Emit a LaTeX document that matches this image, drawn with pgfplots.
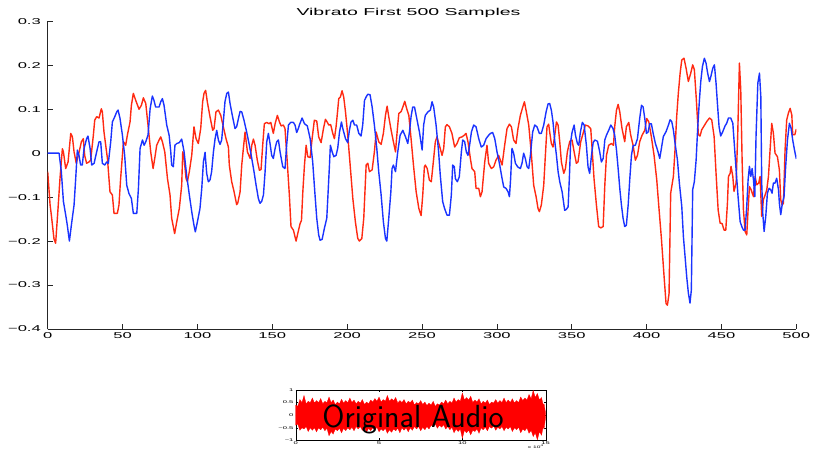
\documentclass[border=0pt]{standalone}
\usepackage{fontspec}
\setmainfont{Liberation Sans}
\usepackage{pgfplots}
\pgfplotsset{compat=1.18}
\definecolor{vred}{HTML}{FF2A12}
\definecolor{vblue}{HTML}{1A33FF}

\begin{document}
\begin{tikzpicture}[x=1pt,y=1pt]
\useasboundingbox (0,0) rectangle (814,453);

% main plot: first 500 samples
\begin{axis}[at={(47.7pt,124pt)}, anchor=south west, scale only axis,
  width=748.6pt, height=307.7pt,
  xmin=0, xmax=500, ymin=-0.4, ymax=0.3,
  axis x line*=bottom, axis y line*=left,
  axis line style={-, black!85, line width=0.7pt},
  tick align=inside, major tick length=5pt,
  tick style={black!85, line width=0.7pt},
  xtick={0,50,100,150,200,250,300,350,400,450,500},
  xticklabels={0,50,100,150,200,250,300,350,400,450,500},
  ytick={-0.4,-0.3,-0.2,-0.1,0,0.1,0.2,0.3},
  yticklabels={−0.4,−0.3,−0.2,−0.1,0,0.1,0.2,0.3},
  tick label style={font=\fontsize{8.5}{10}\selectfont, xscale=1.95},
  every axis plot/.append style={line width=1.4pt, line join=round}]
\addplot[vred] coordinates {(0,-0.042) (1.6,-0.118) (2.4,-0.14) (4.2,-0.195) (5.3,-0.205) (6.9,-0.126) (8.2,-0.058) (9.8,0.01) (10.5,0.003) (12,-0.035) (13.6,-0.02) (15.4,0.045) (16.5,0.037) (17.6,0.003) (19.1,-0.023) (21,0.003) (22.5,0.026) (23.8,0.033) (24.7,-0.005) (26,-0.023) (27.6,-0.02) (28.7,-0.016) (30.5,0.041) (31.4,0.075) (32.7,0.083) (34.3,0.08) (35.8,0.101) (36.5,0.094) (37.6,0.048) (39.9,-0.012) (41.6,-0.088) (43.2,-0.095) (44.3,-0.137) (46.5,-0.137) (47.6,-0.118) (48.7,-0.058) (50.6,0.026) (52.1,0.018) (53.2,0.041) (55,0.071) (55.9,0.109) (57.2,0.136) (58.8,0.12) (61,0.1) (62.6,0.109) (63.9,0.126) (65.5,0.113) (67,0.064) (68.8,0.003) (70.4,-0.035) (71.5,-0.012) (72.8,0.018) (74.4,0.03) (75.5,0.037) (76.6,0.026) (78.2,0.003) (80,-0.058) (81.7,-0.095) (82.8,-0.148) (84.8,-0.183) (86.2,-0.156) (87.9,-0.126) (89.5,-0.073) (90.2,0.003) (91.1,-0.012) (92.4,-0.058) (93.3,-0.065) (94.6,-0.042) (96.2,-0.005) (97.7,0.06) (99.1,0.033) (100.6,0.022) (102.2,0.056) (103.5,0.117) (104.4,0.136) (105.5,0.143) (106.6,0.117) (108.4,0.083) (110.2,0.052) (111.1,0.056) (112.4,0.094) (114,0.098) (115.6,0.086) (117.3,0.06) (119.1,0.033) (120.7,0.014) (121.3,-0.027) (122.9,-0.065) (124.5,-0.088) (126.2,-0.117) (126.9,-0.114) (128.5,-0.088) (129.6,-0.027) (130.7,0.011) (131.8,0.048) (133.4,0.003) (135.2,-0.012) (136.3,0.018) (137.4,0.032) (138.5,0.018) (140,-0.016) (141.4,-0.039) (142.5,-0.037) (143.6,0.018) (144.7,0.067) (146.3,0.07) (147.8,0.067) (149,0.07) (150.7,0.045) (151.9,0.067) (153.4,0.086) (154.8,0.071) (155.9,0.062) (157.4,0.064) (158.5,0.056) (160,-0.02) (161.4,-0.095) (162.5,-0.167) (164.1,-0.175) (165.9,-0.2) (167,-0.183) (168.6,-0.16) (169.5,-0.153) (170.4,-0.088) (171.5,-0.027) (172.6,0.018) (173.7,-0.008) (175.3,-0.01) (176.6,0.033) (178.1,0.075) (179.7,0.073) (181,0.037) (182.6,0.024) (184.2,0.056) (185.5,0.077) (186.8,0.07) (187.7,0.064) (189,0.065) (190.4,0.045) (191.5,0.033) (192.6,0.06) (193.7,0.098) (194.4,0.124) (195.5,0.128) (196.6,0.142) (197.7,0.128) (198.9,0.094) (200.4,0.041) (202.2,-0.035) (203.8,-0.103) (205.5,-0.156) (207.1,-0.194) (208.2,-0.2) (209.8,-0.194) (211.1,-0.148) (212,-0.08) (212.7,-0.027) (213.8,-0.023) (214.9,-0.042) (216.7,-0.038) (218.2,0.003) (219.4,0.048) (221.1,0.026) (222.7,0.02) (224.2,0.045) (225.6,0.086) (226.7,0.107) (227.8,0.083) (229.4,0.052) (230.9,0.026) (232.3,0.003) (233.2,0.041) (234.5,0.09) (236.1,0.095) (237.2,0.105) (238.5,0.118) (239.8,0.101) (241.2,0.086) (242.7,0.033) (244.3,-0.027) (246.1,-0.088) (247.9,-0.126) (249.4,-0.142) (250.5,-0.095) (251.6,-0.031) (252.2,-0.027) (253.5,-0.035) (254.9,-0.061) (256.2,-0.065) (257.8,-0.012) (258.9,0.026) (260,0.037) (261.6,0.018) (263.4,-0.005) (264.5,0.011) (265.6,0.06) (266.7,0.065) (268.3,0.06) (270,0.045) (271.8,0.014) (273.4,0.022) (274.9,0.035) (276.7,0.037) (278.3,0.041) (279.4,0.045) (280.7,0.026) (282.3,-0.012) (283.4,-0.035) (285.2,-0.042) (286.1,-0.08) (287.9,-0.08) (289,-0.099) (290.1,-0.088) (291.9,-0.02) (293.4,0.018) (294.5,-0.023) (296.3,-0.035) (297.9,-0.031) (299.4,-0.016) (301.2,-0.005) (303.5,-0.027) (305.2,0.018) (306.8,0.056) (308.4,0.066) (309.7,0.06) (311.2,0.03) (312.8,0.022) (314.1,0.056) (315.7,0.086) (317.3,0.105) (318.4,0.117) (319.7,0.094) (321.3,0.064) (323.1,-0.005) (324.6,-0.073) (326.2,-0.099) (327.5,-0.126) (328.4,-0.133) (329.7,-0.118) (331.3,-0.073) (332.4,-0.005) (333.5,0.06) (334.6,0.066) (335.3,0.048) (336.4,0.022) (337.5,0.014) (338.7,0.041) (339.8,0.071) (340.9,0.064) (342,0.026) (343.1,-0.02) (344.7,-0.046) (345.8,-0.035) (347.1,0.003) (348.7,0.027) (350.2,0.03) (351.6,0.003) (353.1,-0.023) (354.2,-0.02) (356,0.026) (357.6,0.045) (359.1,0.064) (360.9,0.062) (362.7,0.056) (363.6,0.011) (364.9,-0.058) (366.5,-0.118) (368,-0.167) (369.4,-0.17) (371,-0.167) (372.1,-0.073) (373.2,-0.005) (374.7,0.018) (376.5,0.022) (377.9,0.018) (378.7,0.06) (379.9,0.098) (381,0.111) (382.1,0.094) (383.6,0.056) (385.4,0.026) (386.5,0.06) (388.1,0.07) (389.4,0.041) (391,0.018) (392.5,-0.016) (393.9,-0.005) (395.4,0.026) (397,0.041) (398.8,0.052) (400.1,0.079) (401.5,0.071) (403.2,0.037) (405,-0.005) (406.8,-0.061) (408.1,-0.118) (409.9,-0.194) (411.7,-0.281) (413,-0.342) (413.9,-0.346) (415,-0.32) (416.1,-0.091) (417.9,-0.053) (419,0.008) (420.1,0.083) (421.2,0.136) (422.4,0.182) (423.5,0.212) (425,0.216) (426.4,0.193) (427.9,0.163) (429.5,0.182) (430.8,0.201) (431.9,0.19) (433.1,0.129) (434.6,0.042) (435.7,0.039) (436.8,0.053) (438.4,0.062) (440.2,0.072) (442,0.08) (443.5,0.076) (445.1,0.038) (446.4,-0.046) (447.8,-0.129) (449.1,-0.159) (450.4,-0.16) (451.8,-0.175) (452.9,-0.175) (454,-0.114) (454.7,-0.053) (455.8,-0.046) (456.4,-0.03) (457.6,-0.053) (458.4,-0.087) (459.8,-0.068) (460.9,0.045) (462,0.205) (462.9,0.144) (463.8,-0.015) (464.7,-0.129) (465.8,-0.178) (466.9,-0.186) (467.8,-0.129) (468.7,-0.076) (469.8,-0.083) (471.4,-0.099) (472.5,-0.053) (473.6,-0.072) (474.9,-0.068) (475.8,-0.053) (476.9,-0.144) (478,-0.106) (479.2,-0.095) (480.3,-0.083) (481.4,-0.053) (482.5,0.008) (483.6,0.068) (484.7,0.045) (485.8,0) (487.4,-0.008) (488.7,-0.038) (489.6,-0.106) (490.5,-0.118) (491.4,-0.114) (492.5,0.008) (493.6,0.076) (494.7,0.091) (495.9,0.102) (497,0.087) (497.6,0.042) (499,0.042) (500,0.055)};
\addplot[vblue] coordinates {(0,0) (7.6,0) (9.1,-0.042) (10.5,-0.11) (12,-0.14) (13.1,-0.164) (14.5,-0.2) (15.8,-0.164) (17.6,-0.118) (18.7,-0.058) (19.8,0.007) (20.9,-0.005) (22,-0.027) (23.1,-0.027) (24.3,0.011) (26,0.033) (26.9,0.039) (28.3,0.011) (29.4,-0.027) (31,-0.023) (32.7,0.003) (34.3,0.026) (35.4,0.026) (36.5,-0.023) (38.1,-0.027) (39.4,-0.02) (40.5,-0.023) (42.1,0.026) (43.2,0.071) (44.8,0.083) (46.1,0.094) (47,0.098) (48.3,0.079) (49.9,0.041) (51.4,-0.005) (52.8,-0.073) (54.3,-0.092) (55.9,-0.103) (57.2,-0.137) (59.5,-0.137) (60.6,-0.08) (61.7,0.011) (63.3,0.03) (64.4,0.018) (65.5,0.026) (67,0.041) (68.4,0.101) (69.9,0.13) (71,0.12) (72.1,0.105) (74.4,0.105) (75.5,0.117) (76.6,0.124) (77.7,0.109) (79.5,0.064) (81.1,0.041) (82.2,0.003) (82.8,-0.027) (83.9,-0.031) (85,0.018) (86.2,0.022) (87.9,0.024) (89.5,0.032) (91.1,0.003) (92.8,-0.05) (94.6,-0.095) (96.2,-0.133) (97.7,-0.164) (98.6,-0.179) (100,-0.156) (101.7,-0.126) (102.9,-0.08) (104,-0.02) (105.1,0.002) (106.2,-0.046) (107.3,-0.065) (108.4,-0.061) (109.5,-0.042) (110.7,0.003) (111.8,0.033) (112.9,0.052) (114,0.03) (115.1,0.02) (116.2,0.03) (117.3,0.071) (118.4,0.117) (119.6,0.136) (120.7,0.139) (121.8,0.113) (123.3,0.086) (125.1,0.056) (126.2,0.06) (127.4,0.079) (128.5,0.095) (129.6,0.094) (131.1,0.075) (132.9,0.048) (134.7,0.018) (136.3,-0.012) (137.8,-0.042) (139.2,-0.073) (140.7,-0.103) (141.8,-0.114) (142.9,-0.11) (144.1,-0.095) (145.2,-0.042) (146.3,0.026) (147.4,0.045) (148.5,0.022) (149.6,-0.005) (150.7,-0.012) (151.9,0.011) (153,0.026) (154.1,0.03) (155.2,0.003) (157,-0.031) (158.5,-0.035) (159.6,0.018) (160.8,0.064) (162.3,0.07) (164.1,0.07) (165.2,0.064) (166.3,0.047) (167.4,0.056) (168.1,0.064) (169.9,0.08) (171.5,0.067) (173.4,0.062) (175.3,0.033) (177,-0.02) (178.4,-0.088) (179.7,-0.148) (181,-0.186) (181.9,-0.198) (183.3,-0.196) (184.8,-0.171) (186.4,-0.148) (187.3,-0.088) (188.2,-0.027) (188.8,0.018) (190,0.003) (191.1,-0.008) (192.6,-0.005) (193.7,0.011) (194.9,0.048) (196.2,0.071) (197.1,0.056) (198.9,0.033) (200.4,0.024) (201.5,0.052) (202.6,0.071) (203.8,0.075) (204.9,0.064) (206.4,0.064) (207.8,0.045) (209.3,0.039) (210.4,0.064) (211.6,0.12) (212.7,0.128) (213.8,0.134) (215.3,0.133) (216.7,0.105) (218.2,0.064) (219.8,0.011) (221.1,-0.042) (222.7,-0.095) (224.2,-0.156) (225.6,-0.194) (226.5,-0.2) (227.8,-0.148) (229.2,-0.088) (230,-0.035) (230.9,-0.027) (232.3,-0.042) (233.8,0.003) (235.4,0.041) (237.2,0.052) (239,0.037) (240.5,0.022) (241.6,0.048) (242.7,0.083) (243.8,0.105) (245,0.105) (246.5,0.079) (248.3,0.048) (250.1,0.007) (251.1,0.064) (252.2,0.086) (254,0.094) (255.6,0.098) (256.7,0.117) (257.8,0.105) (259.4,0.064) (261.1,0.003) (262.2,-0.05) (263.8,-0.11) (265.1,-0.126) (266.7,-0.141) (268.3,-0.141) (269.6,-0.095) (270.5,-0.027) (271.6,-0.031) (272.3,-0.058) (273.6,-0.065) (274.9,-0.054) (276.3,0.003) (277.2,0.03) (278.5,0.026) (279.6,0.003) (280.7,-0.005) (281.8,0.018) (283,0.048) (284.5,0.064) (286.1,0.06) (287.9,0.033) (289.6,0.014) (291.2,0.018) (292.8,0.033) (294.1,0.039) (295.7,0.045) (297.2,0.047) (298.6,0.033) (300.1,0.003) (301.7,-0.023) (303.5,-0.058) (304.6,-0.077) (306.1,-0.08) (307.5,-0.088) (308.4,-0.099) (309.2,-0.058) (310.1,0.011) (311.2,0) (312.4,-0.023) (313.9,-0.031) (315.7,-0.035) (316.8,-0.023) (317.9,0) (319,-0.012) (320.2,-0.031) (321.3,-0.035) (322.4,-0.005) (323.9,0.048) (325.3,0.064) (326.8,0.06) (328.4,0.045) (329.7,0.045) (331.3,0.064) (332.9,0.094) (334.2,0.112) (335.3,0.113) (336.4,0.098) (337.5,0.071) (338.7,0.026) (339.8,-0.005) (340.9,-0.042) (342,-0.065) (343.6,-0.088) (345.3,-0.13) (346.4,-0.128) (347.6,-0.122) (348.5,-0.05) (349.3,0.026) (350.2,0.047) (351.6,0.064) (352.5,0.041) (353.8,0.022) (354.7,0.018) (355.8,0.048) (357.1,0.07) (358.3,0.064) (359.8,0.018) (360.9,-0.031) (362,-0.046) (363.2,-0.005) (364.3,0.024) (365.4,0.03) (367.2,0.027) (368.7,0.003) (369.8,-0.02) (371,-0.012) (372.1,0.03) (373.2,0.041) (374.7,0.052) (376.1,0.064) (377.6,0.056) (378.7,0.041) (379.9,0.007) (381,-0.035) (382.1,-0.08) (383.2,-0.118) (384.3,-0.148) (385.4,-0.167) (386.5,-0.164) (387.7,-0.118) (388.8,-0.058) (389.9,-0.005) (391,0.017) (392.5,0.018) (393.9,0.033) (395.4,0.079) (396.6,0.109) (397.7,0.105) (398.8,0.079) (399.9,0.045) (401,0.048) (402.1,0.067) (403.2,0.067) (404.4,0.045) (405.9,0.022) (407.3,0.007) (408.8,-0.012) (409.9,0.011) (411.2,0.038) (413,0.049) (414.6,0.064) (415.7,0.076) (416.8,0.072) (417.9,0.053) (419,0.023) (420.6,-0.015) (421.9,-0.068) (423.5,-0.121) (424.6,-0.19) (425.7,-0.235) (426.8,-0.281) (427.9,-0.318) (429,-0.341) (429.9,-0.311) (430.8,-0.083) (431.9,-0.065) (433.1,-0.015) (434.2,0.061) (435.3,0.121) (436.2,0.163) (437.3,0.197) (438.6,0.216) (439.7,0.205) (440.8,0.182) (442,0.163) (442.9,0.174) (444.2,0.193) (445.3,0.201) (446.4,0.159) (447.3,0.114) (448.4,0.061) (449.5,0.039) (450.9,0.049) (452.4,0.062) (453.5,0.068) (454.7,0.08) (456.2,0.08) (457.6,0.068) (458.4,0.03) (459.8,-0.038) (461.1,-0.099) (462.5,-0.156) (463.6,-0.167) (464.7,-0.175) (465.8,-0.175) (466.9,-0.121) (467.8,-0.061) (468.7,-0.03) (469.6,-0.053) (470.5,-0.035) (471.4,-0.061) (472.3,-0.099) (473.1,0.038) (474.3,0.159) (475.4,0.182) (476.3,0.129) (476.9,-0.068) (477.6,-0.137) (478.5,-0.178) (479.6,-0.144) (480.7,-0.091) (481.8,-0.08) (482.9,-0.083) (483.8,-0.091) (484.7,-0.068) (485.8,-0.068) (486.9,-0.057) (488.1,-0.083) (488.7,-0.114) (489.6,-0.14) (490.7,-0.114) (491.8,-0.099) (492.9,-0.03) (494.1,0.03) (495.4,0.068) (496.5,0.057) (497.6,0.03) (498.8,0.007) (500,-0.013)};
\end{axis}

\node[font=\fontsize{10}{12}\selectfont, xscale=1.95] at (408.5,440) {Vibrato First 500 Samples};

% inset: whole original signal (envelope)
\begin{axis}[at={(295.7pt,12.7pt)}, anchor=south west, scale only axis,
  width=250pt, height=50.3pt,
  xmin=0, xmax=15, ymin=-1, ymax=1,
  axis line style={black, line width=0.4pt},
  tick align=inside, major tick length=2pt,
  tick style={black, line width=0.4pt},
  xtick={0,5,10,15}, xticklabels={0,5,10,15},
  ytick={-1,-0.5,0,0.5,1}, yticklabels={−1,−0.5,0,0.5,1},
  tick label style={font=\fontsize{4}{5}\selectfont, xscale=1.9, inner sep=1pt}]
\addplot[draw=red, fill=red, line width=0.3pt, line join=miter] coordinates {(0,0.4) (0.125,0.35) (0.25,0.62) (0.375,0.5) (0.5,0.78) (0.625,0.45) (0.75,0.55) (0.875,0.5) (1,0.68) (1.125,0.48) (1.25,0.58) (1.375,0.5) (1.5,0.66) (1.625,0.45) (1.75,0.55) (1.875,0.5) (2,0.72) (2.125,0.5) (2.25,0.6) (2.375,0.42) (2.5,0.52) (2.625,0.45) (2.75,0.63) (2.875,0.48) (3,0.58) (3.125,0.5) (3.25,0.68) (3.375,0.5) (3.5,0.6) (3.625,0.45) (3.75,0.55) (3.875,0.48) (4,0.62) (4.125,0.42) (4.25,0.52) (4.375,0.45) (4.5,0.6) (4.625,0.52) (4.75,0.66) (4.875,0.55) (5,0.72) (5.125,0.52) (5.25,0.62) (5.375,0.55) (5.5,0.78) (5.625,0.55) (5.75,0.65) (5.875,0.58) (6,0.7) (6.125,0.48) (6.25,0.58) (6.375,0.5) (6.5,0.62) (6.625,0.45) (6.75,0.55) (6.875,0.5) (7,0.6) (7.125,0.4) (7.25,0.5) (7.375,0.45) (7.5,0.58) (7.625,0.42) (7.75,0.52) (7.875,0.38) (8,0.48) (8.125,0.4) (8.25,0.55) (8.375,0.35) (8.5,0.45) (8.625,0.4) (8.75,0.52) (8.875,0.45) (9,0.6) (9.125,0.45) (9.25,0.55) (9.375,0.48) (9.5,0.68) (9.625,0.52) (9.75,0.62) (9.875,0.55) (10,0.88) (10.125,0.6) (10.25,0.7) (10.375,0.6) (10.5,0.75) (10.625,0.5) (10.75,0.6) (10.875,0.52) (11,0.65) (11.125,0.45) (11.25,0.55) (11.375,0.48) (11.5,0.6) (11.625,0.42) (11.75,0.52) (11.875,0.48) (12,0.62) (12.125,0.48) (12.25,0.58) (12.375,0.5) (12.5,0.68) (12.625,0.5) (12.75,0.6) (12.875,0.5) (13,0.65) (13.125,0.48) (13.25,0.58) (13.375,0.5) (13.5,0.72) (13.625,0.58) (13.75,0.68) (13.875,0.6) (14,0.82) (14.125,0.65) (14.25,0.98) (14.375,0.7) (14.5,0.86) (14.625,0.6) (14.75,0.7) (14.85,0.4) (14.9,0.45) (15,0.05)
 (15,-0.05) (14.9,-0.55) (14.85,-0.45) (14.75,-0.8) (14.625,-0.65) (14.5,-0.98) (14.375,-0.7) (14.25,-0.85) (14.125,-0.6) (14,-0.72) (13.875,-0.5) (13.75,-0.62) (13.625,-0.55) (13.5,-0.7) (13.375,-0.48) (13.25,-0.58) (13.125,-0.5) (13,-0.65) (12.875,-0.45) (12.75,-0.55) (12.625,-0.48) (12.5,-0.62) (12.375,-0.45) (12.25,-0.55) (12.125,-0.48) (12,-0.6) (11.875,-0.42) (11.75,-0.52) (11.625,-0.45) (11.5,-0.62) (11.375,-0.48) (11.25,-0.58) (11.125,-0.5) (11,-0.72) (10.875,-0.55) (10.75,-0.65) (10.625,-0.6) (10.5,-0.78) (10.375,-0.6) (10.25,-0.7) (10.125,-0.6) (10,-0.92) (9.875,-0.55) (9.75,-0.65) (9.625,-0.55) (9.5,-0.7) (9.375,-0.48) (9.25,-0.58) (9.125,-0.45) (9,-0.55) (8.875,-0.38) (8.75,-0.48) (8.625,-0.4) (8.5,-0.52) (8.375,-0.35) (8.25,-0.45) (8.125,-0.4) (8,-0.55) (7.875,-0.45) (7.75,-0.58) (7.625,-0.48) (7.5,-0.62) (7.375,-0.45) (7.25,-0.55) (7.125,-0.45) (7,-0.6) (6.875,-0.5) (6.75,-0.66) (6.625,-0.5) (6.5,-0.6) (6.375,-0.5) (6.25,-0.7) (6.125,-0.52) (6,-0.62) (5.875,-0.55) (5.75,-0.68) (5.625,-0.58) (5.5,-0.72) (5.375,-0.52) (5.25,-0.62) (5.125,-0.55) (5,-0.66) (4.875,-0.48) (4.75,-0.58) (4.625,-0.5) (4.5,-0.62) (4.375,-0.52) (4.25,-0.68) (4.125,-0.5) (4,-0.6) (3.875,-0.45) (3.75,-0.55) (3.625,-0.45) (3.5,-0.62) (3.375,-0.48) (3.25,-0.58) (3.125,-0.5) (3,-0.62) (2.875,-0.52) (2.75,-0.7) (2.625,-0.52) (2.5,-0.62) (2.375,-0.55) (2.25,-0.75) (2.125,-0.65) (2,-0.82) (1.875,-0.52) (1.75,-0.62) (1.625,-0.48) (1.5,-0.58) (1.375,-0.5) (1.25,-0.66) (1.125,-0.5) (1,-0.6) (0.875,-0.5) (0.75,-0.65) (0.625,-0.45) (0.5,-0.55) (0.375,-0.5) (0.25,-0.6) (0.125,-0.35) (0,-0.4)} --cycle;
\end{axis}

\node[font=\fontsize{3.5}{4}\selectfont, xscale=1.9, anchor=south] at (536,0.5) {x 10\textsuperscript{4}};
\node[font=\fontsize{32}{32}\sffamily] at (413,34) {Original Audio};
\end{tikzpicture}
\end{document}
